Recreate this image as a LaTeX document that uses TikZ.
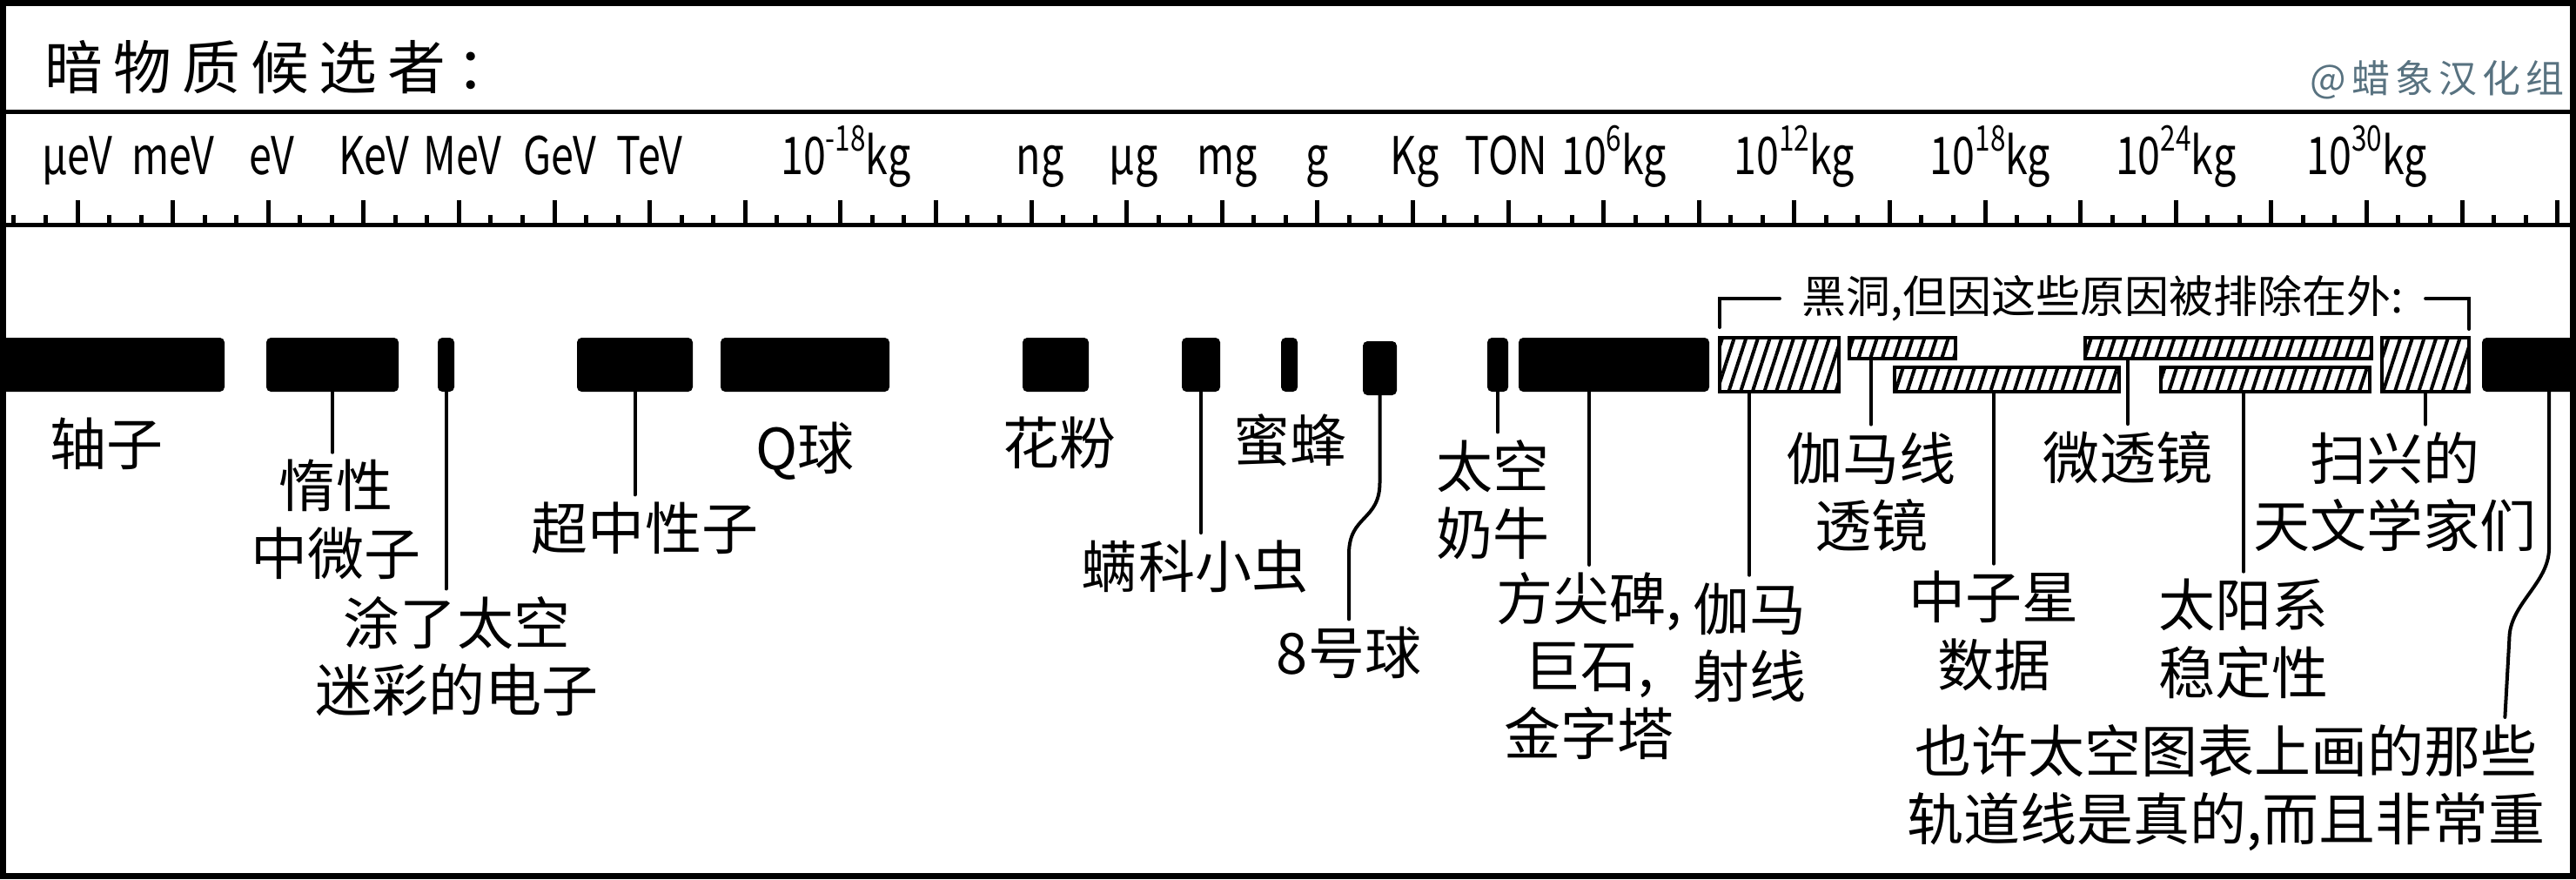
\documentclass[tikz,border=0pt]{standalone}
\usepackage{fontspec}
\setmainfont{Noto Sans CJK SC}
\newfontfamily\unitfont[FakeStretch=0.78]{Noto Sans CJK SC}
\newfontfamily\titlefont[LetterSpace=18]{Noto Sans CJK SC}
\newfontfamily\markfont[LetterSpace=14]{Noto Sans CJK SC}
\usetikzlibrary{patterns.meta}
\definecolor{markblue}{RGB}{88,114,128}
\newcommand\massexp[1]{10\raisebox{0.45em}{\fontsize{11.5}{11.5}\selectfont #1}kg}

\begin{document}
\begin{tikzpicture}[x=1cm, y=1cm,
  ruleline/.style={line width=0.05cm},
  lead/.style={line width=0.04cm, line cap=round},
  massbar/.style={fill=black, inner sep=0pt, outer sep=0pt, anchor=north west,
    minimum height=0.62cm, rounded corners=1.5pt},
  hatchbar/.style={draw, line width=0.045cm, inner sep=0pt, outer sep=0pt, anchor=north west,
    pattern={Lines[angle=72, distance=0.13cm, line width=0.04cm]}, minimum height=0.62cm},
  upperbar/.style={hatchbar, minimum height=0.24cm},
  lowerbar/.style={hatchbar, minimum height=0.28cm},
  cand/.style={font=\fontsize{18.5}{22}\selectfont, align=center, inner sep=0.08cm},
  unitlbl/.style={font=\unitfont\fontsize{17}{17}\selectfont, anchor=base, inner sep=0pt}]
%% 1 unit = 100 px of the 2960x1010 sheet, y runs downward (negative)
%% one major tick = 3 decades, x_k = 0.89 + 1.096 k
\useasboundingbox (0,0) rectangle (29.6,-10.1);

%% ---- Heading ----
\node[font=\titlefont\fontsize{19}{19}\selectfont, anchor=west, inner sep=0pt] (title)
  at (0.51,-0.77) {暗物质候选者：};
\node[font=\markfont\fontsize{12.5}{12.5}\selectfont, text=markblue, anchor=east, inner sep=0pt] (mark)
  at (29.47,-0.92) {@蜡象汉化组};

%% ---- Ruler ----
\draw[ruleline] (0,-1.28) -- (29.6,-1.28);
\draw[ruleline] (0,-2.58) -- (29.6,-2.58);
\foreach \k in {0,...,26}
  \draw[ruleline] ({0.89+1.096*\k},-2.58) -- ++(0,0.28);
\foreach \k in {-1,...,25} {
  \foreach \m in {1,2}
    \draw[ruleline] ({0.89+1.096*(\k+\m/3)},-2.58) -- ++(0,0.11);
}
\foreach \k/\dx/\u in {0/0/μeV, 1/0/meV, 2/0.04/eV, 3/0.12/KeV, 4/0.04/MeV, 5/0.06/GeV, 6/0/TeV,
    8/0.06/\massexp{-18}, 10/0.1/ng, 11/0.08/μg, 12/0.06/mg, 13/0/g, 14/0.02/Kg, 15/-0.02/TON,
    16/0.12/\massexp{6}, 18/0/\massexp{12}, 20/0.06/\massexp{18}, 22/0/\massexp{24}, 24/0/\massexp{30}}
  \node[unitlbl] (u\k) at ({0.89+1.096*\k+\dx},-2.00) {\u};

%% ---- Solid bars (top at y=-3.88) ----
\node[massbar, minimum width=2.58cm] (axion)  at (0.00,-3.88) {};
\node[massbar, minimum width=1.52cm] (wimp)   at (3.06,-3.88) {};
\node[massbar, minimum width=0.19cm] (camo)   at (5.03,-3.88) {};
\node[massbar, minimum width=1.33cm] (neut)   at (6.63,-3.88) {};
\node[massbar, minimum width=1.94cm] (qball)  at (8.28,-3.88) {};
\node[massbar, minimum width=0.76cm] (pollen) at (11.75,-3.88) {};
\node[massbar, minimum width=0.44cm] (mite)   at (13.58,-3.88) {};
\node[massbar, minimum width=0.19cm] (bee)    at (14.72,-3.88) {};
\node[massbar, minimum width=0.39cm] (eight)  at (15.66,-3.92) {};
\node[massbar, minimum width=0.24cm] (cow)    at (17.09,-3.88) {};
\node[massbar, minimum width=2.19cm] (obel)   at (17.45,-3.88) {};
\node[massbar, minimum width=1.08cm] (orbit)  at (28.52,-3.88) {};

%% ---- Hatched bars: black holes ruled out ----
\node[hatchbar, minimum width=1.37cm] (gamma) at (19.76,-3.88) {};
\node[upperbar, minimum width=1.22cm] (glens) at (21.25,-3.88) {};
\node[lowerbar, minimum width=2.58cm] (nstar) at (21.77,-4.22) {};
\node[upperbar, minimum width=3.29cm] (mlens) at (23.96,-3.88) {};
\node[lowerbar, minimum width=2.40cm] (solar) at (24.83,-4.22) {};
\node[hatchbar, minimum width=1.00cm] (astro) at (27.37,-3.88) {};

\node[font=\fontsize{14.5}{16}\selectfont, inner sep=0.05cm] (bhnote) at (24.16,-3.43)
  {黑洞,但因这些原因被排除在外:};
\draw[lead] ([xshift=-0.2cm]bhnote.west) -| ([yshift=0.12cm]gamma.north west);
\draw[lead] ([xshift=0.2cm]bhnote.east) -| ([yshift=0.1cm]astro.north east);

%% ---- Labels ----
\node[cand] (axionl)  at (1.23,-5.10)  {轴子};
\node[cand] (wimpl)   at (3.86,-5.97)  {惰性\\中微子};
\node[cand] (camol)   at (5.25,-7.54)  {涂了太空\\迷彩的电子};
\node[cand] (neutl)   at (7.41,-6.07)  {超中性子};
\node[cand] (qballl)  at (9.25,-5.18)  {Q球};
\node[cand] (pollenl) at (12.17,-5.09) {花粉};
\node[cand] (mitel)   at (13.73,-6.51) {螨科小虫};
\node[cand] (beel)    at (14.82,-5.06) {蜜蜂};
\node[cand] (eightl)  at (15.50,-7.50) {8号球};
\node[cand] (cowl)    at (17.15,-5.74) {太空\\奶牛};
\node[cand] (obell)   at (18.26,-7.65) {方尖碑,\\巨石,\\金字塔};
\node[cand] (gammal)  at (20.10,-7.38) {伽马\\射线};
\node[cand] (glensl)  at (21.50,-5.65) {伽马线\\透镜};
\node[cand] (nstarl)  at (22.91,-7.25) {中子星\\数据};
\node[cand] (mlensl)  at (24.45,-5.26) {微透镜};
\node[cand] (solarl)  at (25.78,-7.34) {太阳系\\稳定性};
\node[cand] (astrol)  at (27.52,-5.65) {扫兴的\\天文学家们};
\node[cand] (orbitl)  at (25.58,-9.05) {也许太空图表上画的那些\\轨道线是真的,而且非常重};

%% ---- Leader lines ----
\foreach \b in {wimp, camo, neut, mite, cow, astro}
  \draw[lead] (\b.south) -- (\b.south |- \b l.north);
\foreach \b in {obel, gamma, glens, nstar, mlens, solar}
  \draw[lead] (\b.south -| \b l.north) -- (\b l.north);
\draw[lead] (eight.south) -- ++(0,-1.0)
  .. controls +(0,-0.45) and +(0,0.45) .. ([yshift=0.75cm]eightl.north) -- (eightl.north);
\draw[lead] ([xshift=0.23cm]orbit.south) -- ++(0,-1.8)
  .. controls +(0,-0.4) and +(0,0.4) .. ([xshift=-0.5cm, yshift=0.9cm]orbitl.north east)
  -- ([xshift=-0.55cm]orbitl.north east);

%% ---- Frame ----
\draw[line width=0.07cm] (0.035,-0.035) rectangle (29.565,-10.065);
\end{tikzpicture}
\end{document}
